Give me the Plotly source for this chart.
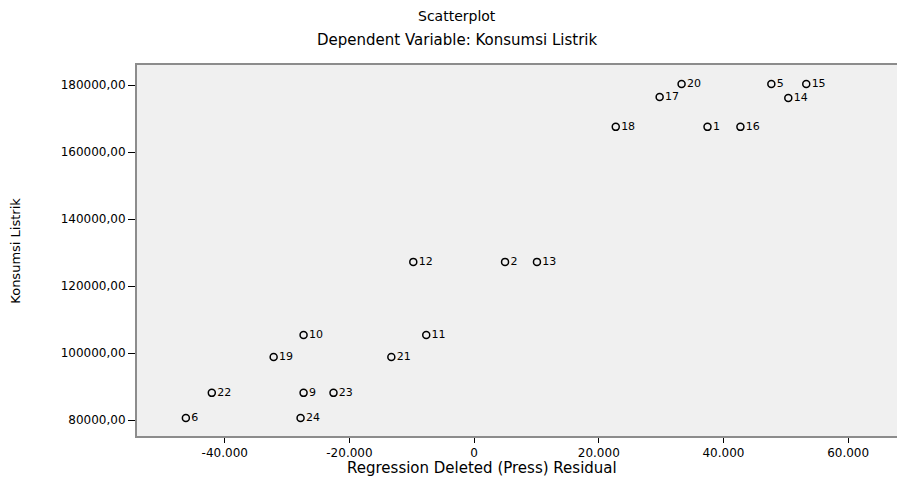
import plotly.graph_objects as go

# Data (Regression Deleted (Press) Residual vs Konsumsi Listrik)
residual = [33280, 29760, 47680, 53280, 50400, 22720, 37440, 42720,
            -9760, 4960, 10080,
            -27360, -7680, -32160, -13280,
            -42080, -27360, -22560,
            -46240, -27840]
konsumsi = [180300, 176400, 180300, 180300, 176100, 167500, 167500, 167500,
            127200, 127200, 127200,
            105400, 105400, 98800, 98800,
            88100, 88100, 88100,
            80600, 80600]
case_labels = ["20", "17", "5", "15", "14", "18", "1", "16",
               "12", "2", "13",
               "10", "11", "19", "21",
               "22", "9", "23",
               "6", "24"]

x_tick_vals = [-40000, -20000, 0, 20000, 40000, 60000]
x_tick_text = ["-40.000", "-20.000", "0", "20.000", "40.000", "60.000"]
y_tick_vals = [80000, 100000, 120000, 140000, 160000, 180000]
y_tick_text = ["80000,00", "100000,00", "120000,00", "140000,00", "160000,00", "180000,00"]

font_family = "DejaVu Sans, Liberation Sans, sans-serif"

fig = go.Figure()
fig.add_trace(go.Scatter(
    x=residual, y=konsumsi, mode="markers+text",
    text=case_labels, textposition="middle right",
    textfont=dict(family=font_family, size=11, color="#000"),
    marker=dict(symbol="circle-open", size=7, color="#000", line=dict(width=1.5)),
    showlegend=False, cliponaxis=False,
))

fig.update_layout(
    width=897, height=476, autosize=False,
    margin=dict(l=129, r=0, t=57, b=48),
    paper_bgcolor="white", plot_bgcolor="#f0f0f0",
    font=dict(family=font_family, size=11, color="#000"),
    xaxis=dict(range=[-54080, 68800], tickvals=x_tick_vals, ticktext=x_tick_text,
               showgrid=False, zeroline=False, showline=True, mirror=True,
               linecolor="#8c8c8c", linewidth=2, ticks="outside", ticklen=5,
               tickcolor="#000", tickfont=dict(size=12)),
    yaxis=dict(range=[75224, 185970], tickvals=y_tick_vals, ticktext=y_tick_text,
               showgrid=False, zeroline=False, showline=True, mirror=True,
               linecolor="#8c8c8c", linewidth=2, ticks="outside", ticklen=7,
               tickcolor="#000", tickfont=dict(size=12)),
    annotations=[
        dict(text="Scatterplot", xref="paper", yref="paper", x=0.418, y=1.132,
             showarrow=False, font=dict(size=14), xanchor="center", yanchor="middle"),
        dict(text="Dependent Variable: Konsumsi Listrik", xref="paper", yref="paper",
             x=0.418, y=1.067, showarrow=False, font=dict(size=15),
             xanchor="center", yanchor="middle"),
        dict(text="Regression Deleted (Press) Residual", xref="paper", yref="paper",
             x=0.45, y=-0.086, showarrow=False, font=dict(size=15),
             xanchor="center", yanchor="middle"),
        dict(text="Konsumsi Listrik", xref="paper", yref="paper",
             x=-0.159, y=0.5, textangle=-90, showarrow=False, font=dict(size=13),
             xanchor="center", yanchor="middle"),
    ],
)

fig.write_html("out.html")
